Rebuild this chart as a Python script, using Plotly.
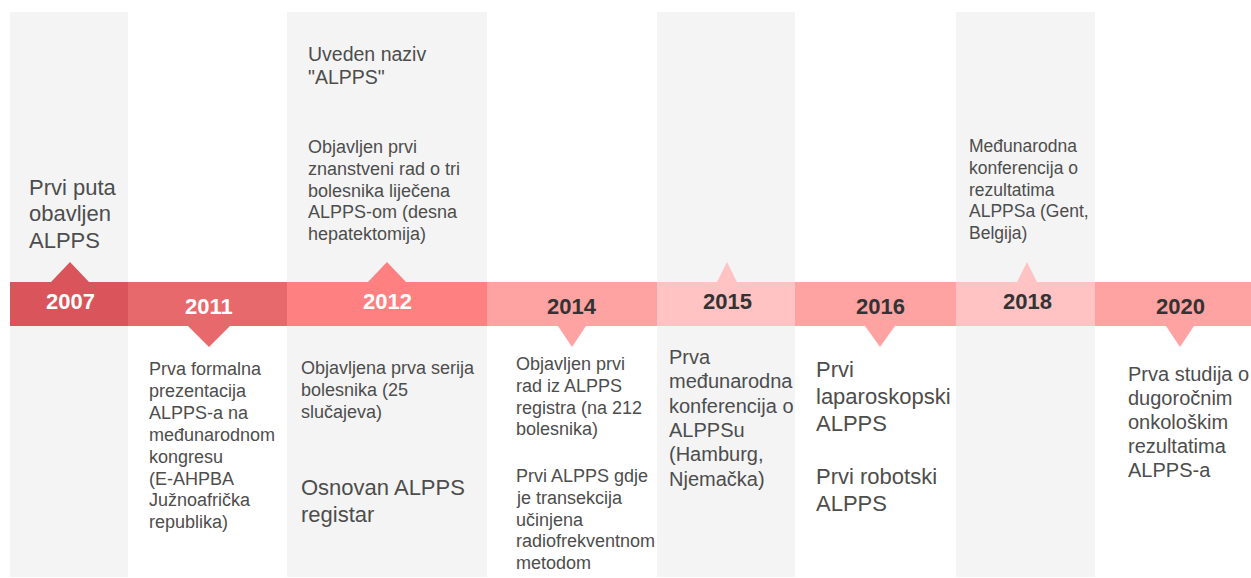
import plotly.graph_objects as go

# ---------------- data ----------------
years = ["2007", "2011", "2012", "2014", "2015", "2016", "2018", "2020"]
pointer_side = ["up", "down", "up", "down", "up", "down", "up", "down"]

above_events = [
    ["Prvi puta<br>obavljen<br>ALPPS"],
    [],
    ["Uveden naziv<br>\"ALPPS\"",
     "Objavljen prvi<br>znanstveni rad o tri<br>bolesnika liječena<br>ALPPS-om (desna<br>hepatektomija)"],
    [],
    [],
    [],
    ["Međunarodna<br>konferencija o<br>rezultatima<br>ALPPSa (Gent,<br>Belgija)"],
    [],
]

below_events = [
    [],
    ["Prva formalna<br>prezentacija<br>ALPPS-a na<br>međunarodnom<br>kongresu<br>(E-AHPBA<br>Južnoafrička<br>republika)"],
    ["Objavljena prva serija<br>bolesnika (25<br>slučajeva)",
     "Osnovan ALPPS<br>registar"],
    ["Objavljen prvi<br>rad iz ALPPS<br>registra (na 212<br>bolesnika)",
     "Prvi ALPPS gdje<br>je transekcija<br>učinjena<br>radiofrekventnom<br>metodom"],
    ["Prva<br>međunarodna<br>konferencija o<br>ALPPSu<br>(Hamburg,<br>Njemačka)"],
    ["Prvi<br>laparoskopski<br>ALPPS",
     "Prvi robotski<br>ALPPS"],
    [],
    ["Prva studija o<br>dugoročnim<br>onkološkim<br>rezultatima<br>ALPPS-a"],
]

# ---------------- layout / style ----------------
W, H = 1251, 578
seg_edges = [10, 128, 287, 487, 657, 795, 956, 1095, 1251]
label_x = [70, 209, 387, 572, 727, 880, 1027, 1180]
seg_colors = ["#d9555b", "#e8696c", "#ff8080", "#ffa2a2", "#ffc3c3",
              "#ffa2a2", "#ffc3c3", "#ffa2a2"]
label_colors = ["#ffffff", "#ffffff", "#ffffff", "#333333", "#333333",
                "#333333", "#333333", "#333333"]
tri_half = [19, 21, 19, 14, 10, 15, 10, 14]
panel_idx = [0, 2, 4, 6]
band_top, band_bot = 282, 326
panel_top, panel_bot = 12, 577

# (x left, centre y of first line, font size, line spacing)
above_pos = {
    0: [(28, 187, 22, 26.7)],
    2: [(307, 54, 19.5, 22.5), (307, 147, 18, 21.8)],
    6: [(968, 146, 17.5, 21.8)],
}
below_pos = {
    1: [(148, 369, 18, 21.9)],
    2: [(300, 368, 18, 21.9), (300, 487, 22, 27)],
    3: [(515, 364, 18, 21.8), (515, 476, 18, 21.8)],
    4: [(668, 357, 20, 24.3)],
    5: [(815, 369, 22, 27.3), (815, 476, 22, 27.3)],
    7: [(1127, 374, 20, 24)],
}
text_color = "#4d4d4d"
font_family = "Liberation Sans, Arial, sans-serif"

fig = go.Figure()
shapes = []
annotations = []

# gray background panels
for i in panel_idx:
    shapes.append(dict(type="rect", xref="x", yref="y",
                       x0=seg_edges[i], x1=seg_edges[i + 1],
                       y0=panel_top, y1=panel_bot,
                       fillcolor="#f4f4f4", line_width=0, layer="below"))

# band segments, pointers and labels
for i, yr in enumerate(years):
    shapes.append(dict(type="rect", xref="x", yref="y",
                       x0=seg_edges[i], x1=seg_edges[i + 1],
                       y0=band_top, y1=band_bot,
                       fillcolor=seg_colors[i], line_width=0))
    cx = label_x[i]
    h = tri_half[i]
    if pointer_side[i] == "up":
        path = f"M {cx-h} {band_top} L {cx} {band_top-20} L {cx+h} {band_top} Z"
        ly = 301
    else:
        path = f"M {cx-h} {band_bot} L {cx} {band_bot+21} L {cx+h} {band_bot} Z"
        ly = 306
    shapes.append(dict(type="path", xref="x", yref="y", path=path,
                       fillcolor=seg_colors[i], line_width=0))
    annotations.append(dict(x=cx, y=ly, xref="x", yref="y", text=f"<b>{yr}</b>",
                            showarrow=False, xanchor="center", yanchor="middle",
                            font=dict(size=22, color=label_colors[i], family=font_family)))

# event texts, one annotation per line for exact line spacing
for events, pos in ((above_events, above_pos), (below_events, below_pos)):
    for i, texts in enumerate(events):
        for t, (x, y0, fs, ls) in zip(texts, pos.get(i, [])):
            for k, line in enumerate(t.split("<br>")):
                annotations.append(dict(x=x, y=y0 + k * ls, xref="x", yref="y", text=line,
                                        showarrow=False, xanchor="left", yanchor="middle",
                                        align="left", borderpad=0,
                                        font=dict(size=fs, color=text_color, family=font_family)))

fig.update_layout(
    width=W, height=H,
    margin=dict(l=0, r=0, t=0, b=0),
    paper_bgcolor="white", plot_bgcolor="white",
    xaxis=dict(range=[0, W], visible=False, fixedrange=True),
    yaxis=dict(range=[H, 0], visible=False, fixedrange=True),
    shapes=shapes, annotations=annotations,
    showlegend=False,
)

fig.write_html("out.html", config={"displayModeBar": False},
               post_script="document.body.style.margin='0';document.body.style.overflow='hidden';")
